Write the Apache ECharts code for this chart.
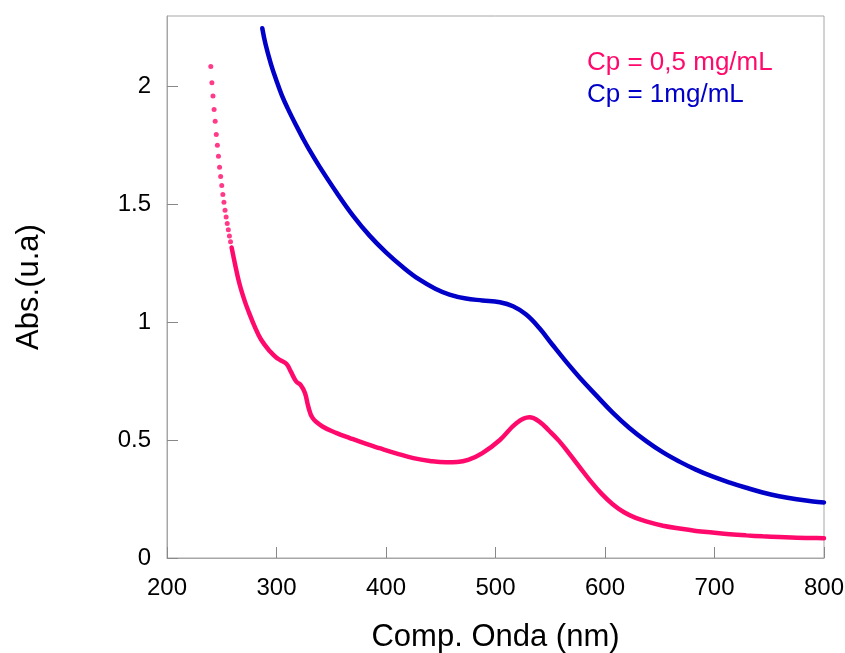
<!DOCTYPE html>
<html>
<head>
<meta charset="utf-8">
<script src="https://cdn.jsdelivr.net/npm/echarts@6/dist/echarts.min.js"></script>
<style>
  html, body { margin: 0; padding: 0; background: #fff; }
  #chart { width: 845px; height: 653px; }
</style>
</head>
<body>
<div id="chart"></div>
<script>
// valores (nm, Abs)
const xTicks = [200, 300, 400, 500, 600, 700, 800]
const yTicks = [0, 0.5, 1, 1.5, 2]

// Cp = 0,5 mg/mL, parte inicial (pontos separados)
const pinkDotNm = [240, 241, 242, 243, 244, 245, 246, 247, 248, 249, 250, 251, 252, 253, 254, 255, 256, 257, 258]
const pinkDotAbs = [2.086, 2.017, 1.960, 1.903, 1.853, 1.797, 1.752, 1.705, 1.658, 1.619, 1.581, 1.543, 1.510, 1.476, 1.447, 1.419, 1.393, 1.366, 1.342]

// Cp = 0,5 mg/mL, resto da curva
const pinkNm = [259, 262, 266, 271, 275, 280, 286, 294, 300, 303, 309, 313, 318, 322, 326, 329, 333, 342, 355, 367, 382, 394, 410, 425, 440, 455, 465, 475, 488, 504, 519, 531, 540, 549, 558, 567, 577, 587, 597, 607, 617, 628, 640, 653, 668, 683, 698, 714, 729, 744, 759, 775, 790, 800]
const pinkAbs = [1.318, 1.250, 1.167, 1.090, 1.040, 0.983, 0.926, 0.877, 0.850, 0.841, 0.824, 0.792, 0.749, 0.735, 0.700, 0.643, 0.594, 0.558, 0.530, 0.509, 0.484, 0.466, 0.443, 0.424, 0.412, 0.406, 0.407, 0.416, 0.445, 0.501, 0.572, 0.597, 0.579, 0.540, 0.497, 0.445, 0.385, 0.325, 0.272, 0.228, 0.195, 0.170, 0.152, 0.137, 0.125, 0.115, 0.108, 0.101, 0.096, 0.092, 0.089, 0.086, 0.085, 0.084]

// Cp = 1 mg/mL
const blueNm = [287, 290, 295, 300, 305, 310, 318, 324, 330, 339, 355, 370, 385, 400, 415, 430, 445, 458, 473, 488, 504, 516, 528, 540, 552, 565, 577, 592, 607, 622, 638, 653, 668, 683, 698, 714, 729, 744, 759, 775, 790, 800]
const blueAbs = [2.248, 2.180, 2.095, 2.025, 1.962, 1.910, 1.835, 1.782, 1.732, 1.663, 1.550, 1.452, 1.368, 1.297, 1.236, 1.183, 1.143, 1.118, 1.101, 1.093, 1.085, 1.068, 1.033, 0.976, 0.905, 0.830, 0.765, 0.690, 0.617, 0.553, 0.495, 0.448, 0.409, 0.375, 0.346, 0.320, 0.298, 0.278, 0.262, 0.249, 0.240, 0.236]

const legendNames = ['Cp = 0,5 mg/mL', 'Cp = 1mg/mL']
const PINK = '#FF0A6C'
const BLUE = '#0000C8'
const FONT = "'Liberation Sans', Arial, sans-serif"

const pairs = (xs, ys) => xs.map((x, i) => [x, ys[i]])

const chart = echarts.init(document.getElementById('chart'), null, { renderer: 'canvas' })

const option = {
  animation: false,
  backgroundColor: '#fff',
  grid: {
    left: 167, top: 16, width: 657, height: 542,
    outerBoundsMode: 'none',
    show: true, borderColor: '#a6a6a6', borderWidth: 1
  },
  xAxis: {
    type: 'value', min: xTicks[0], max: xTicks[xTicks.length - 1], interval: 100,
    name: 'Comp. Onda (nm)', nameLocation: 'middle', nameGap: 64,
    nameTextStyle: { fontSize: 31, color: '#000', fontFamily: FONT },
    axisLine: { lineStyle: { color: '#a6a6a6' } },
    axisTick: { inside: true, length: 11, lineStyle: { color: '#888' } },
    axisLabel: { fontSize: 24, color: '#000', fontFamily: FONT, margin: 18 },
    splitLine: { show: false }
  },
  yAxis: {
    type: 'value', min: yTicks[0], max: 2.3, interval: 0.5,
    name: 'Abs.(u.a)', nameLocation: 'middle', nameGap: 122, nameRotate: 90,
    nameTextStyle: { fontSize: 31, color: '#000', fontFamily: FONT },
    axisLine: { show: true, lineStyle: { color: '#a6a6a6' } },
    axisTick: { show: true, inside: true, length: 11, lineStyle: { color: '#888' } },
    axisLabel: { fontSize: 24, color: '#000', fontFamily: FONT, margin: 16, showMaxLabel: false },
    splitLine: { show: false }
  },
  graphic: [
    { type: 'text', left: 587, top: 50, style: { text: legendNames[0], fill: PINK, font: '26px ' + FONT } },
    { type: 'text', left: 587, top: 82, style: { text: legendNames[1], fill: BLUE, font: '26px ' + FONT } }
  ],
  series: [
    {
      name: legendNames[0], type: 'scatter', symbol: 'circle', symbolSize: 5,
      itemStyle: { color: PINK },
      data: pairs(pinkDotNm, pinkDotAbs)
    },
    {
      name: legendNames[0], type: 'line', showSymbol: false, smooth: 0.4,
      lineStyle: { color: PINK, width: 4.5, cap: 'round' },
      data: pairs(pinkNm, pinkAbs)
    },
    {
      name: legendNames[1], type: 'line', showSymbol: false, smooth: 0.4,
      lineStyle: { color: BLUE, width: 4.5, cap: 'round' },
      data: pairs(blueNm, blueAbs)
    }
  ]
}

chart.setOption(option)
</script>
</body>
</html>
